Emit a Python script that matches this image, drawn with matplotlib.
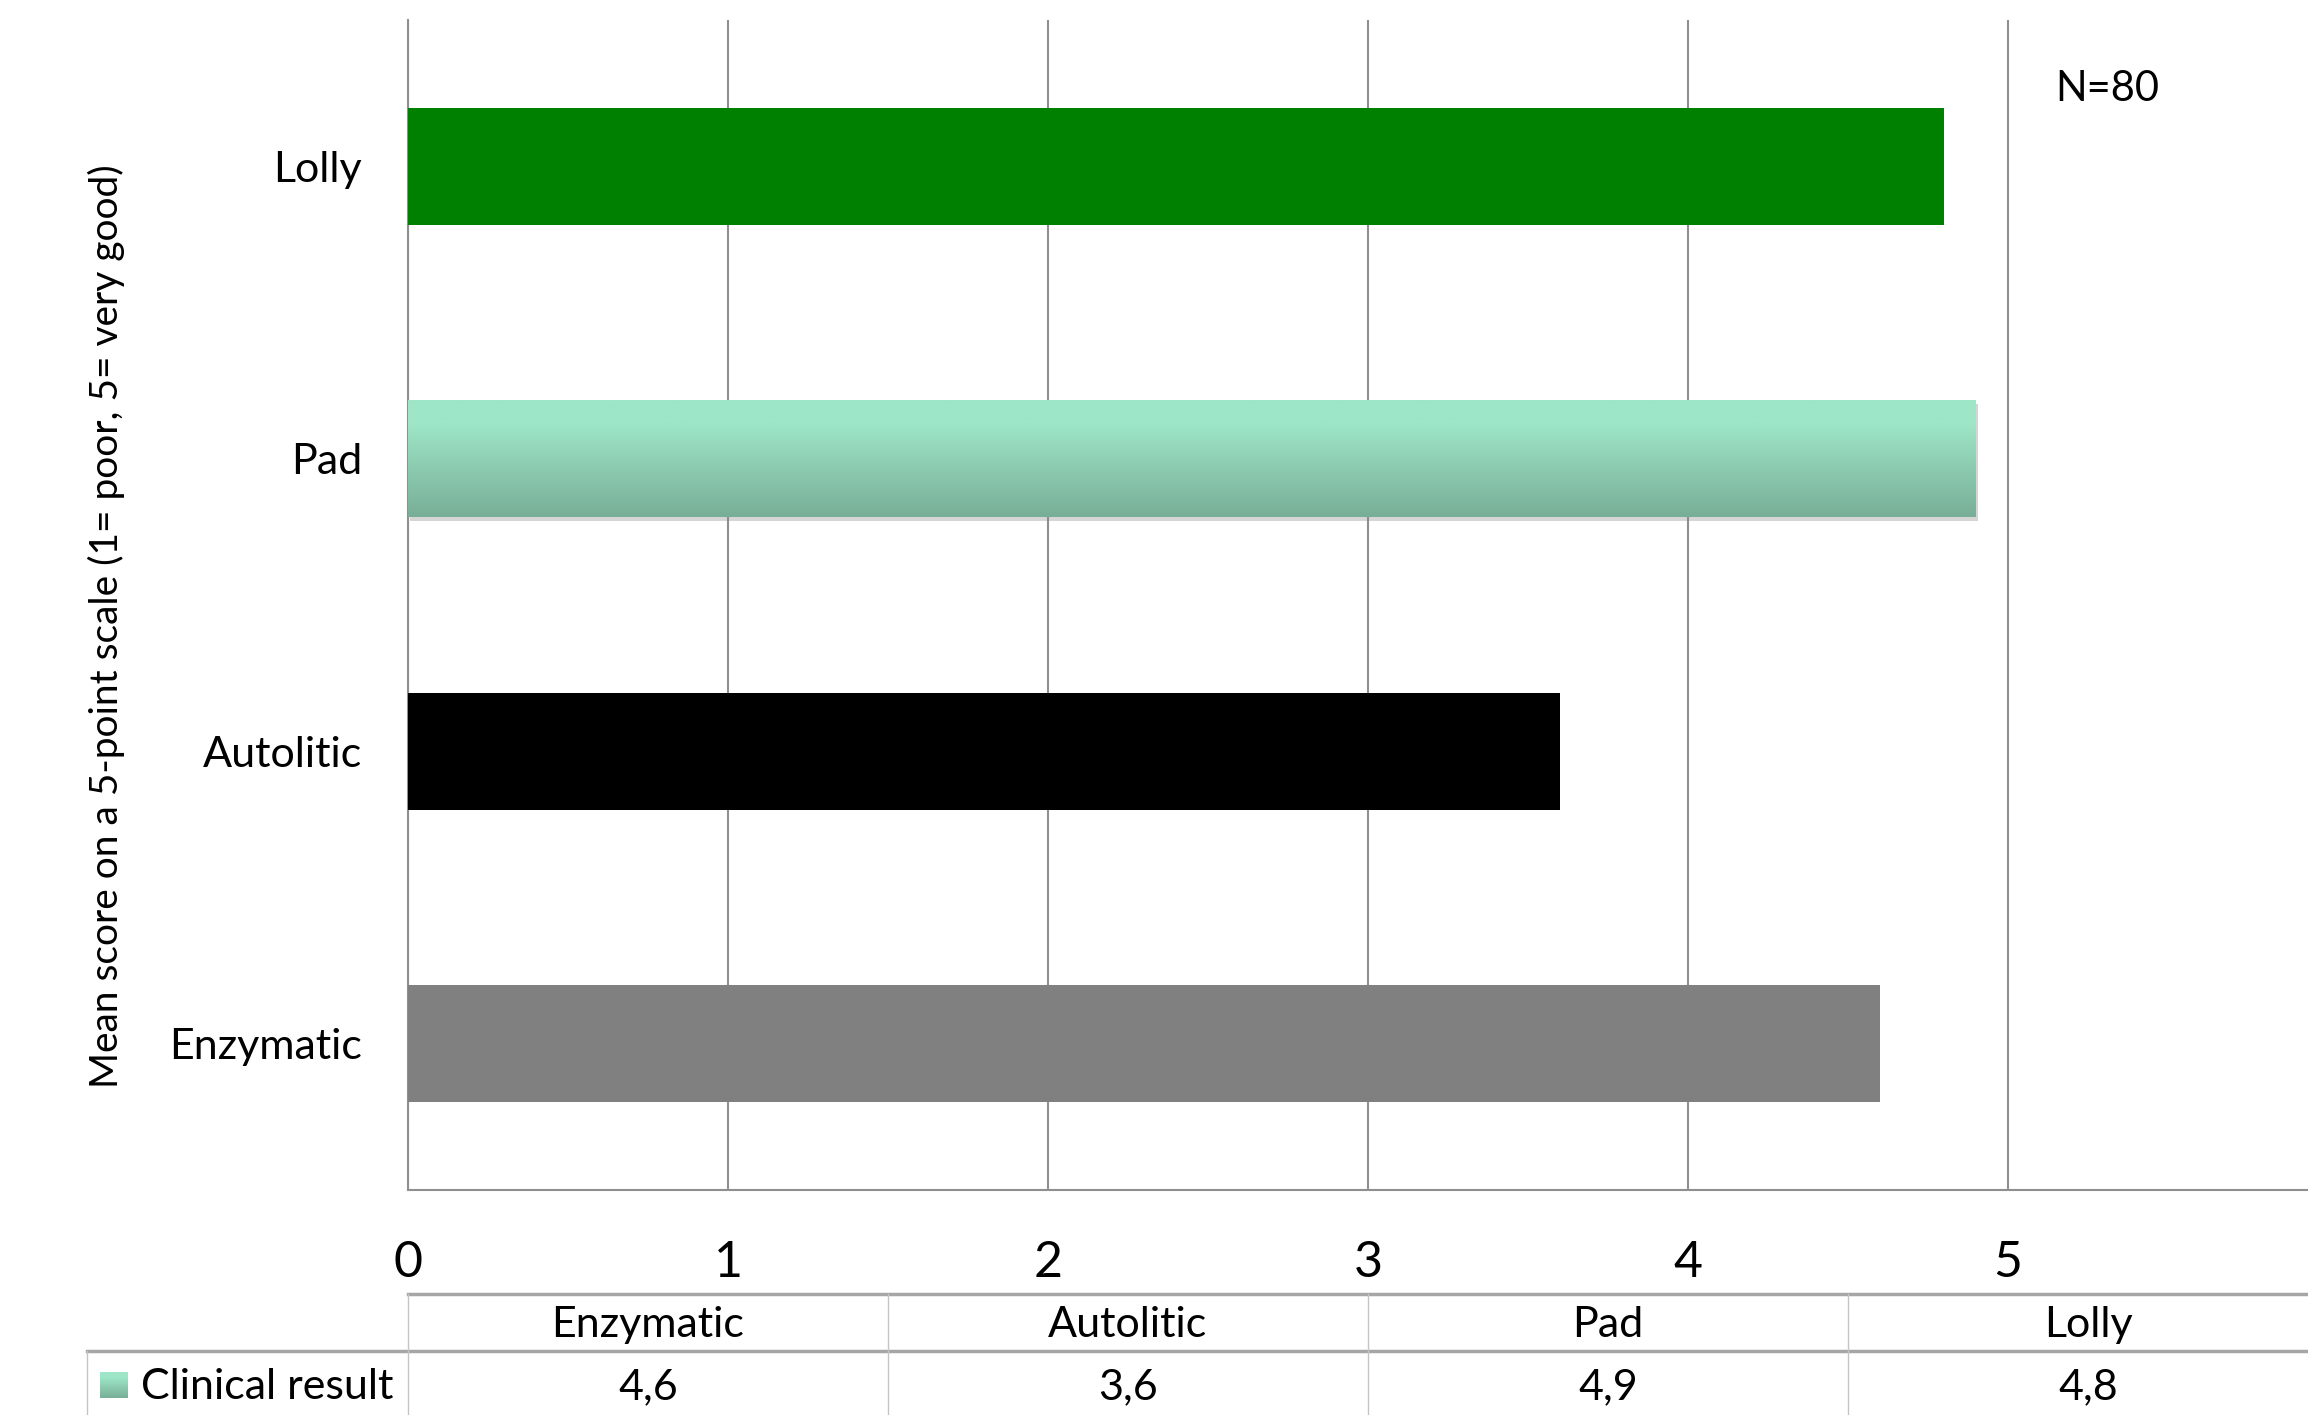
import numpy as np
import matplotlib
matplotlib.use("Agg")
import matplotlib.pyplot as plt
import matplotlib.patheffects as pe
from matplotlib.colors import LinearSegmentedColormap

plt.rcParams["font.family"] = ["Lato", "DejaVu Sans"]

# data
categories = ["Enzymatic", "Autolitic", "Pad", "Lolly"]
scores = [4.6, 3.6, 4.9, 4.8]
score_labels = ["4,6", "3,6", "4,9", "4,8"]
bar_colors = ["#808080", "#000000", "#9ee6c8", "#008000"]
x_ticks = [0, 1, 2, 3, 4, 5, 6]
x_tick_labels = ["0", "1", "2", "3", "4", "5", ""]
series_name = "Clinical result"
y_label = "Mean score on a 5-point scale (1= poor, 5= very good)"
note = "N=80"

W, H = 2308, 1415
fig = plt.figure(figsize=(W / 100, H / 100), dpi=100)

# plot area in pixels (runs past the right edge like the source)
left_px, right_px, top_px, bot_px = 408, 2328, 20, 1190
ax = fig.add_axes([left_px / W, 1 - bot_px / H, (right_px - left_px) / W, (bot_px - top_px) / H])

grid_c = "#8f8f8f"
ypos = np.arange(len(categories))
bars = ax.barh(ypos, scores, height=0.4, color=bar_colors, zorder=3)

# Pad bar: vertical gradient + soft shadow
pad_idx = categories.index("Pad")
pad_bar = bars[pad_idx]
pad_bar.set_path_effects([pe.SimplePatchShadow(offset=(1.5, -3), shadow_rgbFace="#888888", alpha=0.35), pe.Normal()])
grad = LinearSegmentedColormap.from_list(
    "padgrad", [(0, "#9ee6c8"), (0.2, "#9ee6c8"), (1, "#78ae97")])
g = np.linspace(0, 1, 256).reshape(-1, 1)
im = ax.imshow(g, cmap=grad, aspect="auto", zorder=4,
               extent=[0, scores[pad_idx], pad_idx - 0.2, pad_idx + 0.2], origin="upper")
im.set_clip_path(pad_bar)

ax.set_xlim(0, 6)
ax.set_ylim(-0.5, len(categories) - 0.5)
ax.set_xticks(x_ticks)
ax.set_xticklabels(x_tick_labels)
ax.set_yticks(ypos)
ax.set_yticklabels(categories)
ax.tick_params(axis="x", length=0, pad=36, labelsize=36)
ax.tick_params(axis="y", length=0, pad=33, labelsize=31)
ax.grid(axis="x", color=grid_c, lw=1.5, zorder=1)
ax.set_axisbelow(True)
for s in ["top", "right"]:
    ax.spines[s].set_visible(False)
for s in ["left", "bottom"]:
    ax.spines[s].set_color(grid_c)
    ax.spines[s].set_linewidth(1.5)

fig.text(106 / W, 1 - 626 / H, y_label, rotation=90, ha="center", va="center", fontsize=28)
fig.text(2107 / W, 1 - 89 / H, note, ha="center", va="center", fontsize=30)

# data table below the axis
def fy(p):
    return 1 - p / H

def fx(xv):
    return (left_px + xv * (right_px - left_px) / 6) / W

tab_top, tab_mid = 1294, 1351
line_dark = "#a6a6a6"
line_light = "#c4c4c4"
fig.add_artist(plt.Line2D([fx(0), 1], [fy(tab_top)] * 2, color=line_dark, lw=2.5))
fig.add_artist(plt.Line2D([87 / W, 1], [fy(tab_mid)] * 2, color=line_dark, lw=2.5))
fig.add_artist(plt.Line2D([87 / W] * 2, [fy(tab_mid), 0], color=line_light, lw=1))
col_w = 6 / len(categories)
for i in range(len(categories) + 1):
    fig.add_artist(plt.Line2D([fx(i * col_w)] * 2, [fy(tab_top), 0], color=line_light, lw=1))
for i, (cat, lab) in enumerate(zip(categories, score_labels)):
    cx = fx((i + 0.5) * col_w)
    fig.text(cx, fy(1325), cat, ha="center", va="center", fontsize=31)
    fig.text(cx, fy(1387), lab, ha="center", va="center", fontsize=31)

# legend swatch with gradient
sw = fig.add_axes([100 / W, fy(1398), 28 / W, 26 / H])
sw.imshow(g, cmap=grad, aspect="auto")
sw.axis("off")
fig.text(141 / W, fy(1387), series_name, ha="left", va="center", fontsize=31)

fig.savefig("out.png", dpi=100)
